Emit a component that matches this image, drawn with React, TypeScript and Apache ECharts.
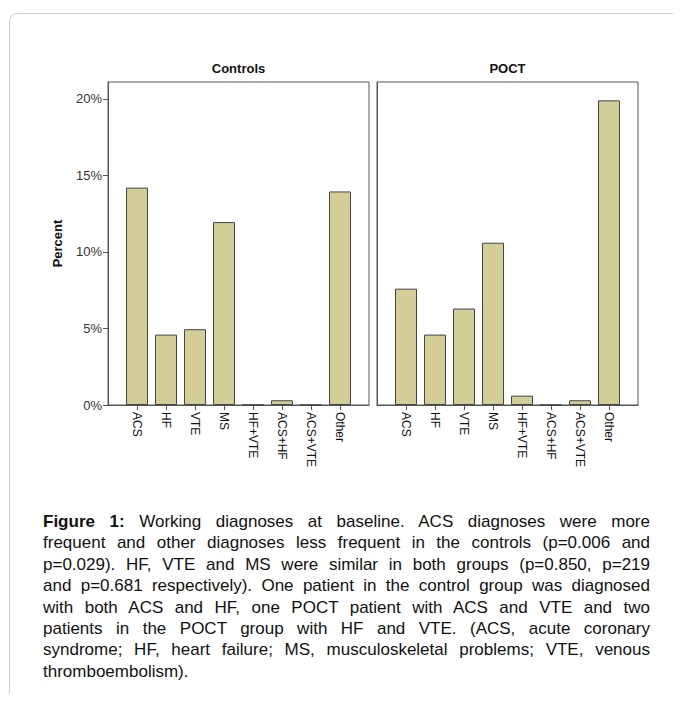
import React, { useEffect, useRef } from "react";
import * as echarts from "echarts";

const categories = ["ACS", "HF", "VTE", "MS", "HF+VTE", "ACS+HF", "ACS+VTE", "Other"];
const controlsValues = [14.2, 4.6, 4.95, 11.95, 0, 0.31, 0, 13.95];
const poctValues = [7.6, 4.6, 6.3, 10.6, 0.61, 0, 0.31, 19.9];
const panelTitles = ["Controls", "POCT"];
const yTicks = [0, 5, 10, 15, 20];
const yMax = 21.1;

const captionLines = [
  "Working diagnoses at baseline. ACS diagnoses were more",
  "frequent and other diagnoses less frequent in the controls (p=0.006 and",
  "p=0.029). HF, VTE and MS were similar in both groups (p=0.850, p=219",
  "and p=0.681 respectively). One patient in the control group was diagnosed",
  "with both ACS and HF, one POCT patient with ACS and VTE and two",
  "patients in the POCT group with HF and VTE. (ACS, acute coronary",
  "syndrome; HF, heart failure; MS, musculoskeletal problems; VTE, venous",
  "thromboembolism).",
];

const FONT = "'Liberation Sans', Arial, sans-serif";
const BAR_COLOR = "#d3cd98";
const LINE_COLOR = "#555";

export default function App() {
  const ref = useRef<HTMLDivElement>(null);

  useEffect(() => {
    if (!ref.current) return;
    const chart = echarts.init(ref.current, null, { renderer: "svg" });
    const padded = ["", ...categories, " "];
    const grids = [
      { left: 108, top: 82, width: 261, height: 323 },
      { left: 377, top: 82, width: 261, height: 323 },
    ];
    const seriesValues = [controlsValues, poctValues];

    const option: any = {
      animation: false,
      textStyle: { fontFamily: FONT },
      grid: grids.map((g) => ({
        ...g,
        show: true,
        borderColor: LINE_COLOR,
        borderWidth: 1,
        backgroundColor: "transparent",
        containLabel: false,
      })),
      xAxis: grids.map((_, i) => ({
        type: "category",
        gridIndex: i,
        data: padded,
        boundaryGap: false,
        axisLine: { show: true, lineStyle: { color: LINE_COLOR, width: 1 } },
        axisTick: {
          show: true,
          length: 5,
          interval: (idx: number) => idx > 0 && idx < padded.length - 1,
          lineStyle: { color: LINE_COLOR },
        },
        axisLabel: {
          interval: 0,
          rotate: -90,
          margin: 7,
          fontSize: 12,
          color: "#111",
          fontFamily: FONT,
        },
        splitLine: { show: false },
      })),
      yAxis: grids.map((_, i) => ({
        type: "value",
        gridIndex: i,
        min: 0,
        max: yMax,
        interval: 5,
        name: i === 0 ? "Percent" : "",
        nameLocation: "middle",
        nameGap: 44,
        nameTextStyle: { fontSize: 13, fontWeight: "bold", color: "#111", fontFamily: FONT },
        axisLine: { show: true, lineStyle: { color: LINE_COLOR, width: 1 } },
        axisTick: {
          show: i === 0,
          length: 5,
          customValues: yTicks,
          lineStyle: { color: LINE_COLOR },
        },
        axisLabel: {
          show: i === 0,
          customValues: yTicks,
          formatter: "{value}%",
          fontSize: 13,
          margin: 6,
          color: "#333",
          fontFamily: FONT,
        },
        splitLine: { show: false },
      })),
      series: seriesValues.map((vals, i) => ({
        type: "bar",
        xAxisIndex: i,
        yAxisIndex: i,
        barWidth: 22,
        data: [null, ...vals, null],
        itemStyle: { color: BAR_COLOR, borderColor: "#444", borderWidth: 1 },
      })),
      graphic: panelTitles.map((t, i) => ({
        type: "text",
        x: grids[i].left + grids[i].width / 2,
        y: 68,
        style: {
          text: t,
          textAlign: "center",
          textVerticalAlign: "middle",
          font: `bold 13px ${FONT}`,
          fill: "#111",
        },
      })),
    };
    chart.setOption(option);
    return () => chart.dispose();
  }, []);

  return (
    <div
      style={{
        position: "relative",
        margin: -8,
        width: 681,
        height: 702,
        overflow: "hidden",
        background: "#fff",
      }}
    >
      <div
        style={{
          position: "absolute",
          left: 9,
          top: 13,
          width: 720,
          height: 760,
          border: "1px solid #cfcfcf",
          borderRadius: 8,
        }}
      />
      <div ref={ref} style={{ position: "absolute", left: 0, top: 0, width: 681, height: 490 }} />
      <div
        style={{
          position: "absolute",
          left: 43,
          top: 511,
          width: 607,
          fontFamily: FONT,
          fontSize: 17,
          lineHeight: "21.4px",
          color: "#111",
        }}
      >
        {captionLines.map((line, i) => (
          <div
            key={i}
            style={{
              whiteSpace: "nowrap",
              textAlign: "justify",
              textAlignLast: i === captionLines.length - 1 ? "left" : "justify",
            }}
          >
            {i === 0 ? (
              <>
                <b>Figure 1:</b> {line}
              </>
            ) : (
              line
            )}
          </div>
        ))}
      </div>
    </div>
  );
}
